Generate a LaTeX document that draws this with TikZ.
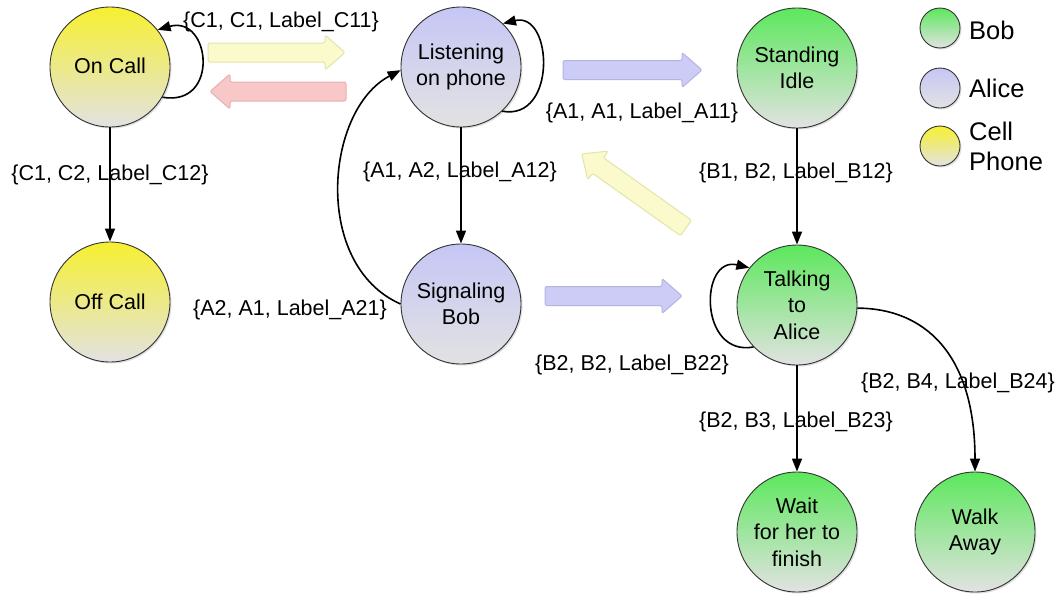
\documentclass[tikz,border=0pt]{standalone}
\usepackage{fontspec}
\setmainfont{Liberation Sans}
\usetikzlibrary{arrows.meta,shadows}
\definecolor{bobtop}{RGB}{92,232,92}
\definecolor{alicetop}{RGB}{198,198,246}
\definecolor{celltop}{RGB}{246,240,48}
\definecolor{stategray}{RGB}{226,226,226}
\definecolor{yfill}{RGB}{250,250,204}
\definecolor{ydraw}{RGB}{228,228,168}
\definecolor{pfill}{RGB}{248,200,200}
\definecolor{pdraw}{RGB}{232,176,176}
\definecolor{lfill}{RGB}{204,204,246}
\definecolor{ldraw}{RGB}{180,180,228}
\newcommand\blockarr[5]{%
  \begin{scope}[shift={(#2,#3)},rotate=#4]
    \draw[#1] (0,-9.5) -- (#5-20,-9.5) -- (#5-20,-17.5) -- (#5,0) -- (#5-20,17.5) -- (#5-20,9.5) -- (0,9.5) -- cycle;
  \end{scope}}
\begin{document}
\begin{tikzpicture}[x=1pt,y=-1pt,
  txt/.style={font=\fontsize{21.5}{26.5}\selectfont},
  state/.style={circle, draw=black!80, line width=0.9pt, minimum size=120pt, inner sep=0pt,
    align=center, txt, bottom color=stategray,
    drop shadow={opacity=0.25,shadow xshift=1.5pt,shadow yshift=-1.5pt}},
  bob/.style={state, top color=bobtop, bottom color=stategray},
  alice/.style={state, top color=alicetop, bottom color=stategray},
  cell/.style={state, top color=celltop, bottom color=stategray},
  legdot/.style={minimum size=40pt},
  legtxt/.style={font=\fontsize{25.5}{30}\selectfont, anchor=west, align=left, inner sep=0pt},
  lbl/.style={txt, inner sep=0pt},
  edge/.style={line width=1.6pt, -{Triangle[length=13pt,width=10pt]}},
  yarr/.style={fill=yfill, draw=ydraw, line width=1pt, rounded corners=2pt},
  parr/.style={fill=pfill, draw=pdraw, line width=1pt, rounded corners=2pt},
  larr/.style={fill=lfill, draw=ldraw, line width=1pt, rounded corners=2pt}]
\fill[white] (0,0) rectangle (1058,595);
\useasboundingbox (0,0) rectangle (1058,595);

% block arrows
\blockarr{yarr}{208}{52.5}{0}{137}
\blockarr{parr}{346}{91.5}{180}{136}
\blockarr{larr}{563}{70}{0}{139}
\blockarr{larr}{545}{296}{0}{137}
\blockarr{yarr}{686}{228}{144.6}{128}

% states
\node[cell] (oncall) at (110,67) {\raisebox{3pt}{On Call}};
\node[cell] (offcall) at (110,302) {Off Call};
\node[alice] (listen) at (461,67) {Listening\\on phone};
\node[alice] (signal) at (461,304) {Signaling\\Bob};
\node[bob] (idle) at (797,68) {Standing\\Idle};
\node[bob] (talk) at (797,305) {Talking\\to\\Alice};
\node[bob] (wait) at (797,532) {Wait\\for her to\\finish};
\node[bob] (walk) at (975,532) {Walk\\Away};

% legend
\node[bob, legdot] (legbob) at (940,28) {};
\node[alice, legdot] (legalice) at (940,88) {};
\node[cell, legdot] (legcell) at (940,146) {};
\node[legtxt] (tbob) at (969,30) {Bob};
\node[legtxt] (talice) at (969,88) {Alice};
\node[legtxt] (tcell) at (969,146) {Cell\\Phone};

% edges
\draw[edge] (oncall) -- (offcall);
\draw[edge] (oncall.-30) .. controls +(58,10) and +(53,-15) .. (oncall.38);
\draw[edge] (listen) -- (signal);
\draw[edge] (listen.-47) .. controls +(55,10) and +(50,-12) .. (listen.46);
\draw[edge] (signal.180) .. controls (312,265) and (325,110) .. (listen.183);
\draw[edge] (idle) -- (talk);
\draw[edge] (talk.-136) .. controls +(-55,10) and +(-50,-12) .. (talk.142);
\draw[edge] (talk) -- (wait);
\draw[edge] (talk.-3) .. controls +(65,0) and +(0,-120) .. (walk.north);

% labels
\node[lbl] (lc11) at (281,22) {\{C1, C1, Label\_C11\}};
\node[lbl] (lc12) at (110,175) {\{C1, C2, Label\_C12\}};
\node[lbl] (la11) at (642,113) {\{A1, A1, Label\_A11\}};
\node[lbl] (la12) at (460,172) {\{A1, A2, Label\_A12\}};
\node[lbl] (la21) at (290,310) {\{A2, A1, Label\_A21\}};
\node[lbl] (lb12) at (796,173) {\{B1, B2, Label\_B12\}};
\node[lbl] (lb22) at (632,365) {\{B2, B2, Label\_B22\}};
\node[lbl] (lb23) at (796,422) {\{B2, B3, Label\_B23\}};
\node[lbl] (lb24) at (958,383) {\{B2, B4, Label\_B24\}};
\end{tikzpicture}
\end{document}
